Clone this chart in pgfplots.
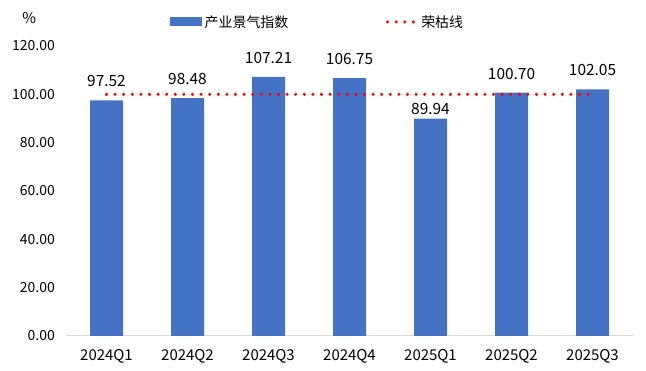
\documentclass[border=0pt]{standalone}
\usepackage{pgfplots}
\pgfplotsset{compat=1.18}
\usepackage{pgfplotstable}
\usepackage{fontspec}
\setmainfont{Noto Sans CJK SC}
\definecolor{barblue}{HTML}{4472C4}
\definecolor{axisgray}{HTML}{D9D9D9}
\pgfplotstableread{
x y off
0 97.52 13
1 98.48 13
2 107.21 13
3 106.75 13
4 89.94 4
5 100.70 13
6 102.05 13
}\datatable
\tikzset{rkline/.style={red, line width=3.4bp, line cap=round, dash pattern=on 0pt off 8.6bp}}
\begin{document}
\begin{tikzpicture}
\useasboundingbox (0,0) rectangle (646bp,371bp);
\begin{axis}[
  at={(66bp,35bp)}, anchor=south west,
  scale only axis, width=567bp, height=290bp,
  xmin=-0.5, xmax=6.5, ymin=0, ymax=120,
  clip=false,
  axis x line*=bottom, axis y line*=left,
  x axis line style={draw=axisgray, line width=1bp, -},
  y axis line style={draw=none},
  major tick length=0pt,
  xtick={0,...,6},
  xticklabels={2024Q1,2024Q2,2024Q3,2024Q4,2025Q1,2025Q2,2025Q3},
  ytick={0,20,...,120},
  yticklabel style={/pgf/number format/fixed, /pgf/number format/zerofill, /pgf/number format/precision=2, /pgf/number format/assume math mode=true,
    inner sep=0pt, xshift=-11bp, font=\fontsize{14}{14}\selectfont},
  xticklabel style={inner sep=0pt, yshift=-13bp, font=\fontsize{15}{15}\selectfont},
  legend style={draw=none, fill=none, inner sep=0pt,
    at={(0.1834,1.083)}, anchor=west,
    font=\fontsize{14}{14}\selectfont,
    nodes={inner sep=2.5bp},
    /tikz/every even column/.append style={column sep=95bp}},
  legend columns=2,
  legend cell align=left,
]
\addplot[ybar, bar width=33bp, fill=barblue, draw=none,
  legend image code/.code={\fill[barblue] (0bp,-4.5bp) rectangle (32bp,4.5bp);},
  nodes near coords={\pgfmathprintnumber[fixed,zerofill,precision=2,assume math mode=true]{\pgfplotspointmeta}},
  visualization depends on={\thisrow{off} \as \myoff},
  every node near coord/.append style={inner sep=0pt, anchor=south, yshift=\myoff bp, font=\fontsize{15.5}{15.5}\selectfont, text=black},
] table[x=x, y=y] {\datatable};
\addlegendentry{产业景气指数}
\addplot[rkline,
  legend image code/.code={\draw[rkline] (1.5bp,0bp) -- (31bp,0bp);}]
  coordinates {(0,100) (6,100)};
\addlegendentry{荣枯线}
\node[font=\fontsize{15}{15}\selectfont] at (rel axis cs:-0.065,1.097) {\%};
\end{axis}
\end{tikzpicture}
\end{document}
